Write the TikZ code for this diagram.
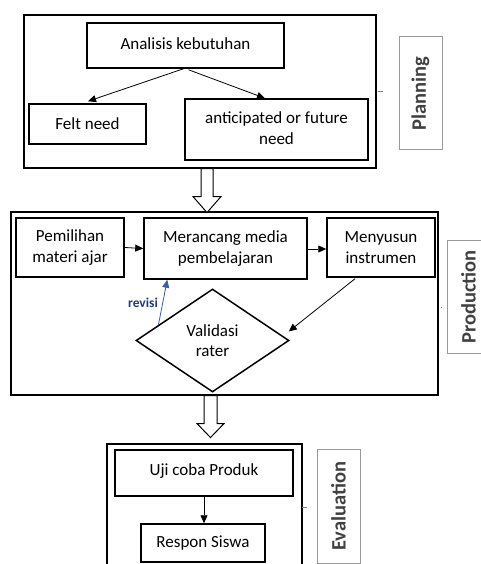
\documentclass[tikz,border=0pt]{standalone}
\usepackage{fontspec}
\setmainfont{Carlito}
\usetikzlibrary{shapes.geometric,arrows.meta,calc}
\definecolor{revblue}{HTML}{1F3D7A}
\definecolor{arrblue}{HTML}{3A5FA8}
\begin{document}
\begin{tikzpicture}[x=1pt,y=-1pt,
 outer/.style={draw, line width=1.1pt, inner sep=0},
 box/.style={draw, line width=1.5pt, align=center, inner sep=0, font=\fontsize{17}{21}\selectfont},
 sidelab/.style={draw=black!40, line width=1pt, rotate=90, inner sep=0,
   font=\fontsize{20.5}{24}\selectfont\bfseries, text=black!75,
   minimum width=113, minimum height=43},
 conn/.style={line width=0.8pt, -{Triangle[length=8pt,width=7pt]}},
 blockarrow/.style={draw, line width=1pt, fill=white},
 tick/.style={draw=black!50, line width=0.6pt}
]
\useasboundingbox (0,0) rectangle (481,564);
\begin{scope}
\clip (0,0) rectangle (481,564);

% ---------- Planning ----------
\node[outer, minimum width=352, minimum height=153] (plan) at (200,91.5) {};
\node[box, minimum width=197, minimum height=45] (ana) at (185.5,45.5) {\raisebox{3pt}{Analisis kebutuhan}};
\node[box, minimum width=117, minimum height=40] (felt) at (87.5,124) {Felt need};
\node[box, minimum width=183, minimum height=61] (ant) at (276.5,129.5) {\raisebox{3pt}{\begin{tabular}{@{}c@{}}anticipated or future\\ need\end{tabular}}};
\node[sidelab] (planlab) at (420.5,93.5) {Planning};
\coordinate (pt1) at ($(plan.east)+(1,0)$);
\draw[tick] (pt1) -- ++(5,0);

\draw[conn] ($(ana.south)+(-2,0)$) -- ($(felt.north)+(0.5,-2)$);
\draw[conn] ($(ana.south)+(3,1)$) -- ($(ant.north)+(-11.5,0)$);

% ---------- Production ----------
\node[outer, minimum width=427, minimum height=183] (prod) at (224.5,303.5) {};
\node[box, minimum width=108, minimum height=59] (pem) at (70,247.5) {Pemilihan\\ materi ajar};
\node[box, minimum width=163, minimum height=61] (mer) at (225.5,248.5) {\raisebox{3pt}{\begin{tabular}{@{}c@{}}Merancang media\\ pembelajaran\end{tabular}}};
\node[box, minimum width=108, minimum height=59] (men) at (381,247.5) {Menyusun\\ instrumen};
\node[draw, diamond, line width=1.5pt, inner sep=0, minimum width=153, minimum height=103,
      align=center, font=\fontsize{17}{20}\selectfont] (dia) at (212.5,340.5) {Validasi\\ rater};
\node[sidelab] (prodlab) at (468.5,297) {Production};
\fill[black!60] ($(prod.east)+(3,4)$) circle (0.5);

\draw[conn] (pem.east) -- (mer.west);
\draw[conn] ($(mer.east)+(0,0.5)$) -- ($(men.west)+(0,1.5)$);
\draw[conn] ($(men.south)+(-26,1)$) -- ($(dia.east)+(-1,-9)$);
\coordinate (rv) at ($(dia.west)!0.3!(dia.north)$);
\draw[arrblue, line width=0.8pt, -{Triangle[length=8pt,width=7pt]}] (rv) -- ($(mer.south west)+(24,0)$);
\node[text=revblue, font=\fontsize{13.5}{16}\selectfont\bfseries] (rvlab) at (143,303) {revisi};

% ---------- block arrows ----------
\coordinate (ba1) at ($(plan.south)+(7,0)$);
\filldraw[blockarrow] ($(ba1)+(-6,0)$) -- ++(0,28) -- ++(-8,0) -- ($(ba1)+(0,44)$)
   -- ($(ba1)+(14,28)$) -- ($(ba1)+(6,28)$) -- ($(ba1)+(6,0)$) -- cycle;
\coordinate (ba2) at ($(prod.south)+(-14,0)$);
\filldraw[blockarrow] ($(ba2)+(-6.5,0)$) -- ++(0,28) -- ++(-7,0) -- ($(ba2)+(0,42)$)
   -- ($(ba2)+(13.5,28)$) -- ($(ba2)+(6.5,28)$) -- ($(ba2)+(6.5,0)$) -- cycle;

% ---------- Evaluation ----------
\node[outer, minimum width=195, minimum height=150] (eval) at (204.5,519) {};
\node[box, minimum width=178, minimum height=46] (uji) at (204,473) {\raisebox{6pt}{Uji coba Produk}};
\node[box, minimum width=124, minimum height=38] (res) at (203,543) {Respon Siswa};
\node[sidelab, minimum width=114] (evallab) at (338.5,506) {Evaluation};
\draw[tick] (302,507) -- ++(5,0);
\draw[conn] ($(uji.south)+(0,0)$) -- ($(res.north)+(1,0)$);
\end{scope}
\end{tikzpicture}
\end{document}
